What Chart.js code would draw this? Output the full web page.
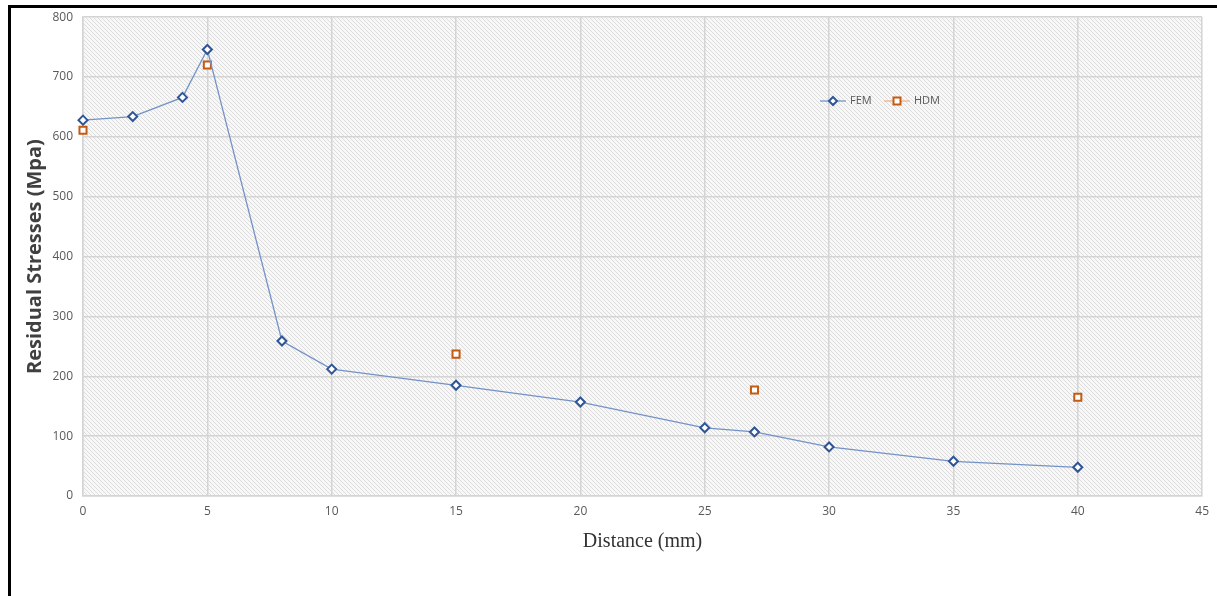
<!DOCTYPE html>
<html>
<head>
<meta charset="utf-8">
<script src="https://cdn.jsdelivr.net/npm/chart.js@4.4.1/dist/chart.umd.min.js"></script>
<style>
  html, body { margin: 0; padding: 0; background: #fff; }
  #wrap { position: relative; width: 1217px; height: 596px; overflow: hidden; }
  #frame { position: absolute; left: 8px; top: 5px; right: -10px; bottom: -10px;
           border-top: 3px solid #000; border-left: 3px solid #000; }
  canvas { position: absolute; left: 0; top: 0; }
</style>
</head>
<body>
<div id="wrap">
  <div id="frame"></div>
  <canvas id="stressChart" width="1217" height="596"></canvas>
</div>
<script>
// data
const femDistance = [0, 2, 4, 5, 8, 10, 15, 20, 25, 27, 30, 35, 40];
const femStress = [628, 634, 666, 746, 259, 212, 185, 157, 114, 107, 82, 58, 48];
const hdmDistance = [0, 5, 15, 27, 40];
const hdmStress = [611, 720, 237, 177, 165];
const xTicks = [0, 5, 10, 15, 20, 25, 30, 35, 40, 45];
const yTicks = [0, 100, 200, 300, 400, 500, 600, 700, 800];

function toPoints(xs, ys) {
  return xs.map((x, i) => ({ x: x, y: ys[i] }));
}

// hatched plot background
function makeHatch(ctx) {
  const tile = document.createElement("canvas");
  tile.width = 4;
  tile.height = 4;
  const t = tile.getContext("2d");
  t.fillStyle = "#f8f8f8";
  t.fillRect(0, 0, 4, 4);
  t.fillStyle = "#dcdcdc";
  for (let i = 0; i < 4; i++) t.fillRect(i, i, 1, 1);
  return ctx.createPattern(tile, "repeat");
}

const hatchPlugin = {
  id: "hatch",
  beforeDraw(chart) {
    const { ctx, chartArea } = chart;
    ctx.save();
    ctx.fillStyle = makeHatch(ctx);
    ctx.fillRect(chartArea.left, chartArea.top, chartArea.right - chartArea.left, chartArea.bottom - chartArea.top);
    ctx.restore();
  },
};

// excel-like legend: line with marker in the middle
const legendPlugin = {
  id: "excelLegend",
  afterDraw(chart) {
    const ctx = chart.ctx;
    const y = 101;
    const items = [
      { x: 820, label: "FEM", line: "#7392c8", stroke: "#2f5597", style: "diamond" },
      { x: 884, label: "HDM", line: "#f4b183", stroke: "#c55a11", style: "square" },
    ];
    ctx.save();
    items.forEach((it) => {
      ctx.strokeStyle = it.line;
      ctx.lineWidth = 1.25;
      ctx.beginPath();
      ctx.moveTo(it.x, y);
      ctx.lineTo(it.x + 26, y);
      ctx.stroke();
      const cx = it.x + 13;
      ctx.fillStyle = "#fff";
      ctx.strokeStyle = it.stroke;
      ctx.lineWidth = 2;
      ctx.beginPath();
      if (it.style === "diamond") {
        ctx.moveTo(cx, y - 4);
        ctx.lineTo(cx + 4, y);
        ctx.lineTo(cx, y + 4);
        ctx.lineTo(cx - 4, y);
        ctx.closePath();
      } else {
        ctx.rect(cx - 3.5, y - 3.5, 7, 7);
      }
      ctx.fill();
      ctx.stroke();
      ctx.fillStyle = "#595959";
      ctx.font = "11px 'Open Sans'";
      ctx.textBaseline = "middle";
      ctx.fillText(it.label, it.x + 30, y);
    });
    ctx.restore();
  },
};

const ctx = document.getElementById("stressChart");

new Chart(ctx, {
  type: "scatter",
  data: {
    datasets: [
      {
        label: "FEM",
        data: toPoints(femDistance, femStress),
        showLine: true,
        clip: false,
        borderColor: "#7392c8",
        borderWidth: 1.25,
        pointStyle: "rectRot",
        pointRadius: 4.5,
        pointBorderWidth: 2,
        pointBorderColor: "#2f5597",
        pointBackgroundColor: "#fff",
      },
      {
        label: "HDM",
        data: toPoints(hdmDistance, hdmStress),
        showLine: false,
        clip: false,
        pointStyle: "rect",
        pointRadius: 5,
        pointBorderWidth: 2,
        pointBorderColor: "#c55a11",
        pointBackgroundColor: "#fff",
      },
    ],
  },
  options: {
    responsive: false,
    animation: false,
    layout: {
      padding: { left: 0, right: 14, top: 17, bottom: 0 },
    },
    scales: {
      x: {
        type: "linear",
        min: 0,
        max: 45,
        afterFit(scale) {
          scale.height = 100;
        },
        afterBuildTicks(scale) {
          scale.ticks = xTicks.map((v) => ({ value: v }));
        },
        grid: {
          color: "#d4d4d4",
          lineWidth: 1.5,
          drawTicks: false,
        },
        border: { display: true, color: "#d4d4d4", width: 1.5 },
        ticks: {
          padding: 8,
          color: "#595959",
          font: { family: "'Open Sans'", size: 12 },
        },
        title: {
          display: true,
          text: "Distance (mm)",
          color: "#333",
          font: { family: "'Liberation Serif'", size: 20 },
          padding: { top: 0, bottom: 42 },
        },
      },
      y: {
        type: "linear",
        min: 0,
        max: 800,
        afterFit(scale) {
          scale.width = 83;
        },
        afterBuildTicks(scale) {
          scale.ticks = yTicks.map((v) => ({ value: v }));
        },
        grid: {
          color: "#d4d4d4",
          lineWidth: 1.5,
          drawTicks: false,
        },
        border: { display: true, color: "#d4d4d4", width: 1.5 },
        ticks: {
          padding: 10,
          color: "#595959",
          font: { family: "'Open Sans'", size: 12 },
        },
        title: {
          display: true,
          text: "Residual Stresses (Mpa)",
          color: "#404040",
          font: { family: "'Open Sans'", size: 20, weight: "bold" },
          padding: { top: 23, bottom: 0 },
        },
      },
    },
    plugins: {
      legend: { display: false },
      tooltip: { enabled: false },
    },
  },
  plugins: [hatchPlugin, legendPlugin],
});
</script>
</body>
</html>
